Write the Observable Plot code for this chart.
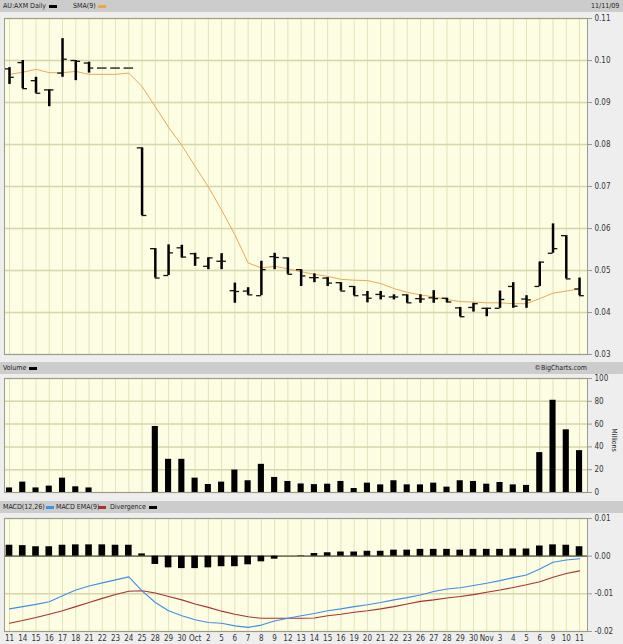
<!DOCTYPE html>
<html><head><meta charset="utf-8">
<script src="https://cdn.jsdelivr.net/npm/d3@7"></script>
<script src="https://cdn.jsdelivr.net/npm/@observablehq/plot@0.6"></script>
<style>
body{margin:0;background:#eeeeee;width:623px;height:644px;overflow:hidden;}
#wrap{position:relative;width:623px;height:644px;font-family:"Liberation Sans Narrow","DejaVu Sans Condensed","Liberation Sans",sans-serif;color:#222;}
.hdr{position:absolute;left:0;width:623px;height:12px;background:#cccccc;font-size:7px;line-height:12px;}
.hdr span{position:absolute;top:0;white-space:nowrap;}
.sw{position:absolute;height:3px;top:5px;width:8px;}
.chart{position:absolute;left:0;}
#mil{position:absolute;left:594px;top:435px;width:40px;height:10px;line-height:10px;text-align:center;font-size:7px;transform:rotate(90deg);transform-origin:center;white-space:nowrap;}
</style></head><body><div id="wrap">
<div class="hdr" style="top:0">
  <span style="left:3px">AU:AXM Daily</span><div class="sw" style="left:49px;background:#000"></div>
  <span style="left:73px">SMA(9)</span><div class="sw" style="left:98px;background:#e8a848"></div>
  <span style="left:591px">11/11/09</span>
</div>
<div class="chart" id="c1" style="top:14px"></div>
<div class="hdr" style="top:362px">
  <span style="left:3px">Volume</span><div class="sw" style="left:29px;background:#000"></div>
  <span style="right:36px">©BigCharts.com</span>
</div>
<div class="chart" id="c2" style="top:374px"></div>
<div id="mil">Millions</div>
<div class="hdr" style="top:501px">
  <span style="left:3px">MACD(12,26)</span><div class="sw" style="left:46px;background:#3d8fe8"></div>
  <span style="left:56px">MACD EMA(9)</span><div class="sw" style="left:98px;background:#a83232"></div>
  <span style="left:110px">Divergence</span><div class="sw" style="left:149px;background:#000"></div>
</div>
<div class="chart" id="c3" style="top:514px"></div>
</div>
<script>
const dateLabels = ["11","14","15","16","17","18","21","22","23","24","25","28","29","30","Oct","2","5","6","7","8","9","12","13","14","15","16","19","20","21","22","23","26","27","28","29","30","Nov","3","4","5","6","9","10","11"];

const open  = [0.0980,0.0995,0.0952,0.0930,0.0970,0.1000,0.0994,0.0982,0.0982,0.0982,0.0792,0.0552,0.0488,0.0554,0.0540,0.0510,0.0522,0.0452,0.0451,0.0440,0.0533,0.0530,0.0502,0.0483,0.0482,0.0471,0.0462,0.0442,0.0443,0.0437,0.0442,0.0433,0.0435,0.0434,0.0411,0.0412,0.0410,0.0410,0.0462,0.0432,0.0462,0.0541,0.0583,0.0456];
const high  = [0.0983,0.1000,0.0960,0.0930,0.1052,0.1000,0.0996,0.0982,0.0982,0.0982,0.0792,0.0552,0.0561,0.0560,0.0541,0.0530,0.0540,0.0470,0.0459,0.0522,0.0541,0.0530,0.0502,0.0492,0.0483,0.0471,0.0462,0.0450,0.0450,0.0442,0.0442,0.0442,0.0452,0.0434,0.0412,0.0422,0.0410,0.0451,0.0471,0.0440,0.0520,0.0611,0.0583,0.0482];
const low   = [0.0943,0.0933,0.0922,0.0890,0.0960,0.0952,0.0970,0.0982,0.0982,0.0982,0.0631,0.0482,0.0488,0.0530,0.0510,0.0502,0.0502,0.0422,0.0441,0.0440,0.0502,0.0491,0.0462,0.0471,0.0462,0.0451,0.0440,0.0423,0.0430,0.0430,0.0422,0.0422,0.0422,0.0423,0.0390,0.0401,0.0390,0.0410,0.0410,0.0410,0.0462,0.0541,0.0480,0.0440];
const close = [0.0960,0.0933,0.0922,0.0930,0.1003,0.0998,0.0982,0.0982,0.0982,0.0982,0.0631,0.0482,0.0542,0.0532,0.0530,0.0530,0.0522,0.0450,0.0442,0.0502,0.0531,0.0491,0.0487,0.0483,0.0470,0.0451,0.0440,0.0434,0.0439,0.0437,0.0423,0.0432,0.0433,0.0425,0.0390,0.0421,0.0410,0.0431,0.0415,0.0430,0.0520,0.0552,0.0480,0.0440];
const sma9  = [0.0967,0.0972,0.0979,0.0971,0.0971,0.0974,0.0967,0.0967,0.0967,0.0970,0.0938,0.0890,0.0841,0.0798,0.0748,0.0699,0.0644,0.0585,0.0518,0.0506,0.0510,0.0504,0.0497,0.0491,0.0486,0.0479,0.0477,0.0476,0.0469,0.0457,0.0448,0.0442,0.0437,0.0431,0.0426,0.0425,0.0423,0.0423,0.0421,0.0421,0.0433,0.0446,0.0451,0.0456];
const volume = [4.0,9.1,4.0,5.6,12.6,5.0,4.0,0,0,0,0,57.9,29.1,29.1,12.6,7.0,9.1,19.7,10.3,24.7,13.2,9.7,7.5,6.9,7.3,9.7,3.5,8.2,6.7,10.3,6.7,6.7,8.2,4.7,10.3,9.7,7.3,8.8,6.7,6.2,35.0,80.9,55.0,36.7];
const macd   = [-0.0140,-0.0134,-0.0128,-0.0121,-0.0105,-0.0090,-0.0079,-0.0071,-0.0063,-0.0055,-0.0092,-0.0123,-0.0145,-0.0158,-0.0169,-0.0176,-0.0178,-0.0185,-0.0189,-0.0183,-0.0172,-0.0165,-0.0158,-0.0152,-0.0145,-0.0140,-0.0134,-0.0129,-0.0123,-0.0116,-0.0110,-0.0103,-0.0094,-0.0087,-0.0084,-0.0078,-0.0072,-0.0065,-0.0057,-0.0050,-0.0034,-0.0016,-0.0010,-0.0007];
const signal = [-0.0178,-0.0171,-0.0163,-0.0154,-0.0145,-0.0134,-0.0123,-0.0112,-0.0102,-0.0093,-0.0092,-0.0098,-0.0107,-0.0116,-0.0127,-0.0136,-0.0146,-0.0154,-0.0161,-0.0165,-0.0165,-0.0165,-0.0165,-0.0164,-0.0158,-0.0154,-0.0149,-0.0145,-0.0140,-0.0134,-0.0127,-0.0120,-0.0116,-0.0111,-0.0107,-0.0102,-0.0096,-0.0090,-0.0083,-0.0076,-0.0068,-0.0056,-0.0046,-0.0039];
const diverg = [0.0029,0.0028,0.0025,0.0025,0.0029,0.0030,0.0030,0.0030,0.0029,0.0029,0.0006,-0.0022,-0.0031,-0.0033,-0.0033,-0.0031,-0.0028,-0.0028,-0.0023,-0.0015,-0.0008,0.0000,0.0001,0.0007,0.0009,0.0011,0.0011,0.0013,0.0013,0.0016,0.0016,0.0018,0.0018,0.0018,0.0016,0.0018,0.0018,0.0018,0.0019,0.0019,0.0027,0.0030,0.0029,0.0025];

const priceTicks = [0.03,0.04,0.05,0.06,0.07,0.08,0.09,0.10,0.11];
const volTicks = [0,20,40,60,80,100];
const macdTicks = [-0.02,-0.01,0,0.01];

const N = dateLabels.length;
const idx = d3.range(N);
const rows = idx.map(i => ({i, o: open[i], h: high[i], l: low[i], c: close[i], sma: sma9[i], v: volume[i], m: macd[i], s: signal[i], d: diverg[i]}));

const W = 623, ML = 4, MR = 36;
const xDomain = [-0.377, 43.6];
const font = '"Liberation Sans Narrow","DejaVu Sans Condensed","Liberation Sans",sans-serif';
const style = {background: "transparent", fontFamily: font, fontSize: "8px", color: "#333", overflow: "visible"};
const BG = "#fdfde3", VGRID = "#e2e2bc", HGRID = "#d6d6a8", EDGE = "#9a9a90";

const price = Plot.plot({
  width: W, height: 346, marginLeft: ML, marginRight: MR, marginTop: 4, marginBottom: 6,
  style, x: {domain: xDomain, axis: null}, y: {domain: [0.03, 0.11], axis: null},
  marks: [
    Plot.frame({fill: BG}),
    Plot.ruleX(idx, {stroke: VGRID}),
    Plot.ruleY(priceTicks, {stroke: HGRID, strokeWidth: 1.5}),
    Plot.line(rows, {x: "i", y: "sma", stroke: "#e8aa55", strokeWidth: 1}),
    Plot.ruleX(rows, {x: "i", y1: "l", y2: "h", stroke: "#000", strokeWidth: 2.5}),
    Plot.ruleY(rows, {y: "o", x1: d => d.i - 0.36, x2: d => d.i, stroke: "#111", strokeWidth: 1.3}),
    Plot.ruleY(rows, {y: "c", x1: d => d.i, x2: d => d.i + 0.36, stroke: "#111", strokeWidth: 1.3}),
    Plot.axisY(priceTicks, {anchor: "right", tickFormat: d => d.toFixed(2), tickSize: 4, tickPadding: 3, label: null, stroke: EDGE}),
    Plot.frame({stroke: EDGE})
  ]
});
document.getElementById("c1").appendChild(price);

const vol = Plot.plot({
  width: W, height: 124, marginLeft: ML, marginRight: MR, marginTop: 4, marginBottom: 6,
  style, x: {domain: xDomain, axis: null}, y: {domain: [0, 100], axis: null},
  marks: [
    Plot.frame({fill: BG}),
    Plot.ruleX(idx, {stroke: VGRID}),
    Plot.ruleY(volTicks, {stroke: HGRID, strokeWidth: 1.5}),
    Plot.rect(rows, {x1: d => d.i - 0.23, x2: d => d.i + 0.23, y1: 0, y2: "v", fill: "#000"}),
    Plot.axisY(volTicks, {anchor: "right", tickSize: 4, tickPadding: 3, label: null, stroke: EDGE}),
    Plot.frame({stroke: EDGE})
  ]
});
document.getElementById("c2").appendChild(vol);

const mc = Plot.plot({
  width: W, height: 130, marginLeft: ML, marginRight: MR, marginTop: 4, marginBottom: 13,
  style, x: {domain: xDomain, axis: null}, y: {domain: [-0.02, 0.01], axis: null},
  marks: [
    Plot.frame({fill: BG}),
    Plot.ruleX(idx, {stroke: VGRID}),
    Plot.ruleY(macdTicks, {stroke: HGRID, strokeWidth: 1.5}),
    Plot.ruleY([0], {stroke: "#7a7a60", strokeWidth: 1.8}),
    Plot.rect(rows, {x1: d => d.i - 0.25, x2: d => d.i + 0.25, y1: 0, y2: "d", fill: "#000"}),
    Plot.line(rows, {x: "i", y: "s", stroke: "#a83232", strokeWidth: 1.1}),
    Plot.line(rows, {x: "i", y: "m", stroke: "#3d8fe8", strokeWidth: 1.1}),
    Plot.axisY(macdTicks, {anchor: "right", tickFormat: d => d.toFixed(2), tickSize: 4, tickPadding: 3, label: null, stroke: EDGE}),
    Plot.axisX(idx, {anchor: "bottom", tickFormat: i => dateLabels[i], tickSize: 0, tickPadding: 4, label: null}),
    Plot.frame({stroke: EDGE})
  ]
});
document.getElementById("c3").appendChild(mc);
</script>
</body></html>
